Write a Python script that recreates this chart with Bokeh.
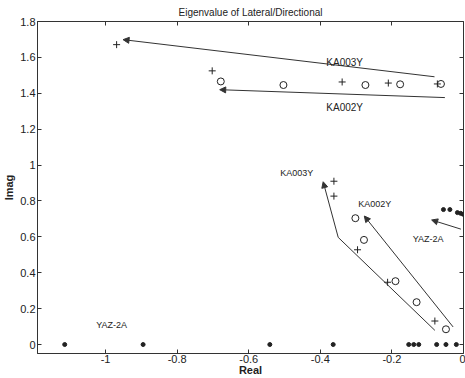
from bokeh.plotting import figure
from bokeh.models import (Range1d, LinearAxis, Arrow, NormalHead, Label,
                          FixedTicker, Title, CustomJSTickFormatter)
from bokeh.embed import file_html
from bokeh.resources import INLINE

# ---- data ----
plus_x = [-0.969, -0.702, -0.339, -0.210, -0.073, -0.362, -0.362, -0.296, -0.212, -0.080]
plus_y = [1.671, 1.525, 1.463, 1.457, 1.452, 0.910, 0.827, 0.528, 0.347, 0.131]

circ_x = [-0.678, -0.503, -0.274, -0.177, -0.063, -0.302, -0.278, -0.190, -0.131, -0.049]
circ_y = [1.466, 1.446, 1.446, 1.450, 1.452, 0.704, 0.583, 0.353, 0.236, 0.085]

dot_x = [-1.114, -0.895, -0.541, -0.364, -0.153, -0.139, -0.125, -0.075, -0.049, -0.020,
         -0.056, -0.038, -0.017, -0.008, -0.001]
dot_y = [0.0, 0.0, 0.0, 0.0, 0.0, 0.0, 0.0, 0.0, 0.0, 0.0,
         0.752, 0.752, 0.735, 0.731, 0.726]

# arrows: start x, start y, end x, end y
arrow_x0 = [-0.081, -0.052, -0.350, -0.029, -0.0073]
arrow_y0 = [1.492, 1.376, 0.597, 0.098, 0.643]
arrow_x1 = [-0.951, -0.681, -0.392, -0.277, -0.089]
arrow_y1 = [1.699, 1.420, 0.907, 0.716, 0.694]

# bent part of the lower KA003Y path
bend_x = [-0.080, -0.350]
bend_y = [0.079, 0.597]

label_text = ["KA003Y", "KA002Y", "KA003Y", "KA002Y", "YAZ-2A", "YAZ-2A"]
label_x = [-0.332, -0.332, -0.466, -0.248, -0.099, -0.983]
label_y = [1.573, 1.319, 0.957, 0.781, 0.587, 0.107]
label_size = ["10px", "10px", "9px", "9px", "9px", "9px"]

x_ticks = [-1.0, -0.8, -0.6, -0.4, -0.2, 0.0]
y_ticks = [0.0, 0.2, 0.4, 0.6, 0.8, 1.0, 1.2, 1.4, 1.6, 1.8]

FONT = "Liberation Sans"
INK = "#222222"

p = figure(width=465, height=378, output_backend="svg", toolbar_location=None,
           x_range=Range1d(-1.19, 0.0), y_range=Range1d(-0.05, 1.8),
           min_border_left=37, min_border_right=2, min_border_top=21,
           min_border_bottom=22)
p.title = Title(text="Eigenvalue of Lateral/Directional", align="center",
                text_font=FONT, text_font_size="10px", text_font_style="normal",
                text_color=INK, offset=8, standoff=7)
p.xgrid.visible = False
p.ygrid.visible = False
p.outline_line_color = "#333333"
p.outline_line_width = 1

plain = CustomJSTickFormatter(code="return String(Math.round(tick * 10) / 10);")

for ax, ticks in ((p.xaxis[0], x_ticks), (p.yaxis[0], y_ticks)):
    ax.ticker = FixedTicker(ticks=ticks)
    ax.formatter = plain
    ax.major_tick_in = 4
    ax.major_tick_out = 0
    ax.minor_tick_line_color = None
    ax.axis_line_color = "#333333"
    ax.major_tick_line_color = "#333333"
    ax.major_label_text_font = FONT
    ax.major_label_text_font_size = "11px"
    ax.major_label_text_color = INK
    ax.axis_label_text_font = FONT
    ax.axis_label_text_font_size = "11px"
    ax.axis_label_text_font_style = "bold"
    ax.axis_label_text_color = INK

p.xaxis.axis_label = "Real"
p.yaxis.axis_label = "Imag"
p.xaxis.major_label_standoff = 1
p.xaxis.axis_label_standoff = -2
p.yaxis.major_label_standoff = 2
p.yaxis.axis_label_standoff = 2

blank = CustomJSTickFormatter(code="return '';")
top = LinearAxis(ticker=FixedTicker(ticks=x_ticks), formatter=blank,
                 major_tick_in=4, major_tick_out=0,
                 minor_tick_line_color=None, major_label_standoff=0,
                 axis_line_color=None, major_tick_line_color="#333333")
right = LinearAxis(ticker=FixedTicker(ticks=y_ticks), formatter=blank,
                   major_tick_in=4, major_tick_out=0,
                   minor_tick_line_color=None, major_label_standoff=0,
                   axis_line_color=None, major_tick_line_color="#333333")
p.add_layout(top, "above")
p.add_layout(right, "right")

# markers
p.scatter(plus_x, plus_y, marker="cross", size=7, line_color=INK, line_width=1)
p.scatter(circ_x, circ_y, marker="circle", size=7, fill_color=None, line_color=INK,
          line_width=1)
p.scatter(dot_x, dot_y, marker="circle", size=4, fill_color=INK, line_color=INK)

# arrows
p.line(bend_x, bend_y, line_color="#333333", line_width=1)
for x0, y0, x1, y1 in zip(arrow_x0, arrow_y0, arrow_x1, arrow_y1):
    p.add_layout(Arrow(end=NormalHead(size=6, fill_color="#333333", line_color="#333333"),
                       x_start=x0, y_start=y0, x_end=x1, y_end=y1,
                       line_color="#333333", line_width=1))

for t, x, y, s in zip(label_text, label_x, label_y, label_size):
    p.add_layout(Label(x=x, y=y, text=t, text_font=FONT, text_font_size=s,
                       text_align="center", text_baseline="middle", text_color=INK))

open("out.html", "w").write(file_html(p, INLINE))
